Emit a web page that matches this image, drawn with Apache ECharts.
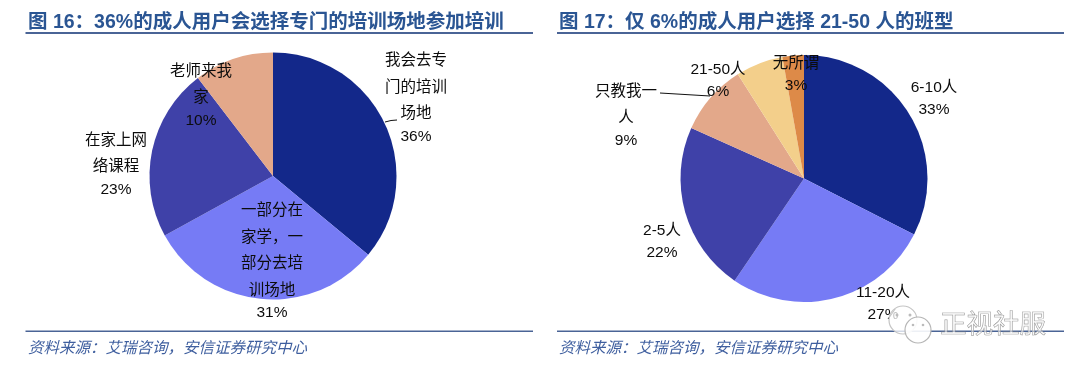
<!DOCTYPE html>
<html><head><meta charset="utf-8">
<style>html,body{margin:0;padding:0;background:#fff}#c{width:1080px;height:373px}</style>
<script src="https://cdn.jsdelivr.net/npm/echarts@6/dist/echarts.min.js"></script>
</head><body><div id="c"></div>
<script>
const names1 = ['我会去专\n门的培训\n场地', '一部分在\n家学，一\n部分去培\n训场地', '在家上网\n络课程', '老师来我\n家'];
const values1 = [36, 31, 22.6, 10.4];
const names2 = ['6-10人', '11-20人', '2-5人', '只教我一\n人', '21-50人', '无所谓'];
const values2 = [32.5, 27, 22.2, 9.3, 6.2, 2.8];
const colors1 = ['#13288A', '#767BF5', '#3F41A8', '#E3A88A'];
const colors2 = ['#13288A', '#767BF5', '#3F41A8', '#E3A88A', '#F3CF8B', '#DD8A48'];
const pos1 = [[416,97],[272,260],[116,163],[201,94]];
const pos2 = [[934,97],[883,302],[662,240],[626,114],[718,79],[796,73]];
const guide1 = {0:[[385,122],[391,120.5],[397,120]]};
const guide2 = {3:[[710,96],[685,94.5],[660,93]]};
const FONT = '"Liberation Sans","Noto Sans CJK SC",sans-serif';
function pie(names, values, cols, center, pos, guides){
  return {
    type:'pie', center:center, radius:123.5, startAngle:90, clockwise:true,
    avoidLabelOverlap:false, silent:true, animation:false,
    itemStyle:{borderWidth:0},
    label:{show:true, position:'outside', fontFamily:FONT, fontSize:15.5, color:'#0c0c0c',
      formatter:p=>{
        const ls = p.name.split('\n');
        const key = ls.length > 1 ? 'n' : 's';
        return ls.map(l=>'{'+key+'|'+l+'}').join('\n')+'\n{p|'+Math.round(p.value)+'%}';
      },
      rich:{
        n:{fontFamily:FONT,fontSize:15.5,lineHeight:26.5,color:'#0c0c0c'},
        s:{fontFamily:FONT,fontSize:15.5,lineHeight:25,color:'#0c0c0c'},
        p:{fontFamily:FONT,fontSize:15.5,lineHeight:19,color:'#0c0c0c'}
      }},
    labelLine:{show:false, lineStyle:{color:'#111', width:1}},
    labelLayout:p=>{
      const o = {x:pos[p.dataIndex][0], y:pos[p.dataIndex][1], align:'center', verticalAlign:'middle'};
      if (guides[p.dataIndex]) o.labelLinePoints = guides[p.dataIndex];
      return o;
    },
    data:names.map((n,i)=>({name:n, value:values[i],
      itemStyle:{color:cols[i]},
      labelLine:{show:!!guides[i]}}))
  };
}
const chart = echarts.init(document.getElementById('c'), null, {renderer:'canvas'});
const titleStyle = {fontFamily:FONT, fontSize:19.5, fontWeight:'bold', color:'#2A5593'};
const noteStyle = {fontFamily:FONT, fontSize:15.5, fontStyle:'italic', fontWeight:'normal', color:'#3F5F9F'};
chart.setOption({
  backgroundColor:'#fff',
  animation:false,
  title:[
    {text:'图 16：36%的成人用户会选择专门的培训场地参加培训', left:28, top:13, padding:0, textStyle:titleStyle},
    {text:'图 17：仅 6%的成人用户选择 21-50 人的班型', left:559, top:13, padding:0, textStyle:titleStyle},
    {text:'资料来源：艾瑞咨询，安信证券研究中心', left:28, top:341, padding:0, textStyle:noteStyle},
    {text:'资料来源：艾瑞咨询，安信证券研究中心', left:559, top:341, padding:0, textStyle:noteStyle}
  ],
  series:[
    pie(names1, values1, colors1, [273,176], pos1, guide1),
    pie(names2, values2, colors2, [804,178.5], pos2, guide2)
  ],
  graphic:[
    {type:'rect', shape:{x:25.5,y:32,width:507.5,height:2}, style:{fill:'#4A6496'}},
    {type:'rect', shape:{x:557,y:32,width:507,height:2}, style:{fill:'#4A6496'}},
    {type:'rect', shape:{x:25.5,y:330.5,width:507.5,height:1.5}, style:{fill:'#4A6496'}},
    {type:'rect', shape:{x:557,y:330.5,width:507,height:1.5}, style:{fill:'#4A6496'}},
    {type:'circle', z:50, shape:{cx:903,cy:320,r:14}, style:{fill:'rgba(255,255,255,0.75)',stroke:'#c4c4c4',lineWidth:1.2}},
    {type:'circle', z:51, shape:{cx:918,cy:330,r:13}, style:{fill:'rgba(255,255,255,0.9)',stroke:'#b5b5b5',lineWidth:1.2}},
    {type:'circle', z:52, shape:{cx:897,cy:315,r:1.5}, style:{fill:'#bbb'}},
    {type:'circle', z:52, shape:{cx:910,cy:315,r:1.5}, style:{fill:'#bbb'}},
    {type:'circle', z:52, shape:{cx:913,cy:325,r:1.3}, style:{fill:'#bbb'}},
    {type:'circle', z:52, shape:{cx:923,cy:325,r:1.3}, style:{fill:'#bbb'}},
    {type:'text', z:52, x:940, y:310, style:{text:'正视社服', font:'400 26.5px "Noto Sans CJK SC"', fill:'rgba(255,255,255,0.5)', stroke:'#8a8a8a', lineWidth:0.7}}
  ]
});
</script></body></html>
